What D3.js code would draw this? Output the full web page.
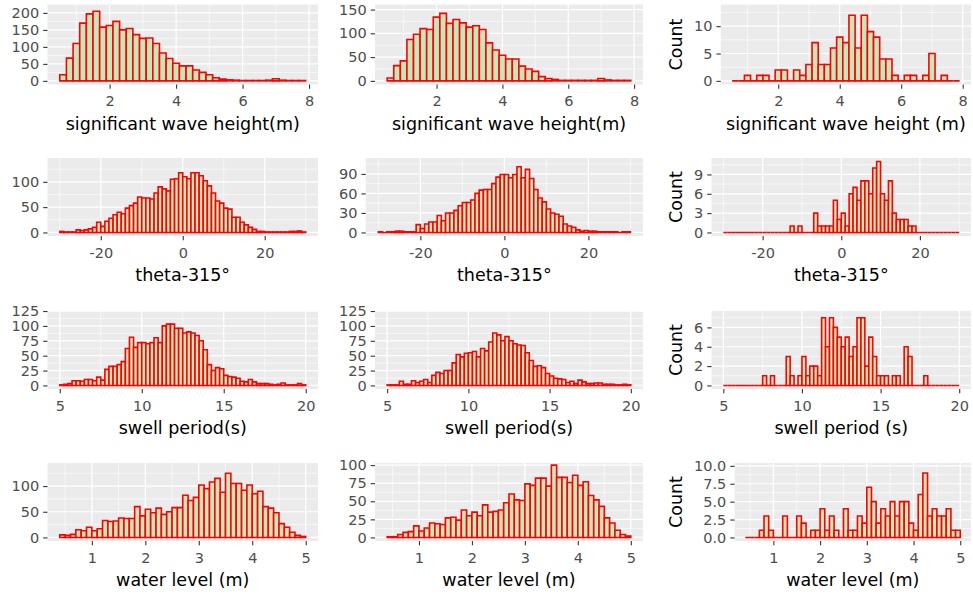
<!DOCTYPE html>
<html>
<head>
<meta charset="utf-8">
<script src="https://cdn.jsdelivr.net/npm/d3@7"></script>
<style>
  body { margin: 0; background: #fff; }
  text { font-family: "DejaVu Sans", sans-serif; }
</style>
</head>
<body>
<div id="chart"></div>
<script>
// bins: [left edge of first bin, bin width]
const waveBin = [0.5, 0.2];
const thetaBin = [-30, 1];
const swellBin = [5, 0.25];
const levelBin = [0.4, 0.1];

// counts per bin, three datasets per variable
const waveA = [18,67,110,170,197,205,158,163,175,150,154,136,125,126,110,82,66,52,44,44,32,25,18,9,5,3,2,1,1,1,1,2,6,2,1,1,1];
const waveB = [6,32,42,87,98,110,108,134,142,121,129,122,113,116,108,80,65,54,46,46,31,25,20,9,5,3,1,1,1,1,1,1,5,2,1,1,1];
const waveC = [0,0,1,0,1,1,0,2,2,0,2,1,3,7,3,3,6,8,7,12,6,12,9,8,4,4,1,0,1,1,0,1,5,0,1,0,0];

const thetaA = [2,1,1,1,5,4,5,7,10,20,12,22,28,35,40,37,48,53,58,70,68,68,66,78,90,86,82,105,106,118,
                110,106,118,118,112,102,92,78,62,58,48,46,30,30,20,15,10,6,2,2,1,1,1,1,1,1,2,2,3,1];
const thetaB = [1,0,1,1,2,2,1,1,1,12,6,13,16,16,26,18,30,30,34,41,46,46,50,60,65,66,66,75,85,89,
                89,84,89,101,84,97,83,66,53,47,36,30,28,25,13,10,8,4,2,3,2,2,1,1,1,1,1,0,1,1];
const thetaC = [0,0,0,0,0,0,0,0,0,0,0,0,0,0,0,0,0,1,0,1,0,0,0,3,1,1,1,1,5,2,
                3,1,6,7,5,8,8,6,10,11,6,5,8,3,2,2,2,1,1,0,0,0,0,0,0,0,0,0,0,0];

const swellA = [1,2,3,8,8,7,10,10,8,14,9,27,32,32,35,40,62,81,64,72,72,70,72,80,72,100,103,103,96,96,
                88,90,88,84,75,60,35,25,30,28,17,15,14,12,7,6,10,6,3,3,3,2,1,2,4,1,1,1,3,1];
const swellB = [1,1,1,7,2,2,8,5,7,10,5,17,22,20,25,25,38,52,48,54,55,57,48,62,58,73,88,85,75,82,
                75,70,68,67,55,42,32,33,30,20,16,12,11,10,5,7,3,9,6,3,3,4,4,2,2,2,1,1,2,1];
const swellC = [0,0,0,0,0,0,0,0,0,0,1,0,1,0,0,0,3,1,0,1,3,1,2,2,1,7,4,7,6,5,
                4,5,3,4,7,7,2,5,3,1,1,1,0,1,1,0,4,3,0,0,0,1,0,0,0,0,0,0,0,0];

const levelA = [5,4,6,15,13,20,13,17,33,31,32,38,37,37,60,42,55,48,57,45,50,58,58,82,72,78,102,95,108,115,
                88,125,105,105,92,102,85,90,60,57,48,27,20,10,4,2];
const levelB = [1,1,4,7,8,16,9,13,20,19,18,27,28,24,38,30,35,30,45,35,36,38,48,60,52,51,74,72,82,82,
                71,100,83,83,76,86,72,77,58,52,43,27,20,10,4,2];
const levelC = [0,0,0,1,3,1,0,0,3,0,0,3,2,0,1,1,4,1,3,1,0,4,1,1,3,2,7,5,2,4,
                3,5,3,5,5,2,1,6,9,3,4,3,3,4,1,1];

// axis ticks
const waveTicks = [2, 4, 6, 8];
const thetaTicks = [-20, 0, 20];
const swellTicks = [5, 10, 15, 20];
const levelTicks = [1, 2, 3, 4, 5];

const yTicks = [
  [0, 50, 100, 150, 200], [0, 50, 100, 150], [0, 5, 10],
  [0, 50, 100], [0, 30, 60, 90], [0, 3, 6, 9],
  [0, 25, 50, 75, 100, 125], [0, 25, 50, 75, 100, 125], [0, 2, 4, 6],
  [0, 50, 100], [0, 25, 50, 75, 100], [0, 2.5, 5, 7.5, 10]
];
// upper y limit of each panel before the 5% padding
const yMax = [214, 153, 13.3, 140, 109, 11, 119.1, 119.1, 7.33, 138, 98, 9.9];

const xTitles = [
  ["significant wave height(m)", "significant wave height(m)", "significant wave height (m)"],
  ["theta-315°", "theta-315°", "theta-315°"],
  ["swell period(s)", "swell period(s)", "swell period (s)"],
  ["water level (m)", "water level (m)", "water level (m)"]
];

const rows = [
  {bin: waveBin, counts: [waveA, waveB, waveC], ticks: waveTicks},
  {bin: thetaBin, counts: [thetaA, thetaB, thetaC], ticks: thetaTicks},
  {bin: swellBin, counts: [swellA, swellB, swellC], ticks: swellTicks},
  {bin: levelBin, counts: [levelA, levelB, levelC], ticks: levelTicks}
];

// layout
const W = 973, H = 596;
const rowTop = [4.5, 158, 311, 463];
const rowH = [80, 78, 78, 78];
const labelStart = [11.5, 339, 694];
const panelRight = [318, 643, 971];
const countX = 676;
const tickLen = 4.3;
const tickFont = 14.5, titleFont = 17.5;

const svg = d3.select("#chart").append("svg")
    .attr("width", W)
    .attr("height", H)
    .style("background", "#fff");

const measure = svg.append("text")
    .attr("font-size", tickFont)
    .attr("visibility", "hidden");
function textWidth(s) {
    measure.text(s);
    return measure.node().getComputedTextLength();
}

function minorOf(ticks, domain) {
    let step = ticks[1] - ticks[0];
    let ext = [ticks[0] - step, ...ticks, ticks[ticks.length - 1] + step];
    let out = [];
    for (let i = 0; i < ext.length - 1; i++) out.push((ext[i] + ext[i + 1]) / 2);
    return out.filter(v => v >= domain[0] && v <= domain[1]);
}

function styleAxis(sel) {
    sel.select(".domain").remove();
    sel.selectAll(".tick line").attr("stroke", "#333333").attr("stroke-width", 1.1);
    sel.selectAll(".tick text")
        .attr("fill", "#4D4D4D")
        .style("font-size", tickFont + "px")
        .style("font-family", "'DejaVu Sans', sans-serif");
}

rows.forEach((row, r) => {
    row.counts.forEach((counts, c) => {
        let i = r * 3 + c;
        let fmt = i === 11 ? (d => d.toFixed(1)) : (d => String(d));
        let labelW = d3.max(yTicks[i].map(fmt), textWidth);
        let left = labelStart[c] + labelW + 4 + tickLen;
        let right = panelRight[c];
        let top = rowTop[r], bottom = top + rowH[r];

        let bins = counts.map((n, k) => ({
            x0: row.bin[0] + k * row.bin[1],
            x1: row.bin[0] + (k + 1) * row.bin[1],
            n: n
        }));
        let lo = bins[0].x0, hi = bins[bins.length - 1].x1, pad = (hi - lo) * 0.05;

        let x = d3.scaleLinear().domain([lo - pad, hi + pad]).range([left, right]);
        let y = d3.scaleLinear().domain([-0.05 * yMax[i], 1.05 * yMax[i]]).range([bottom, top]);

        let g = svg.append("g");

        g.append("rect")
            .attr("x", left).attr("y", top)
            .attr("width", right - left).attr("height", bottom - top)
            .attr("fill", "#EBEBEB");

        // minor grid
        g.selectAll(".xminor").data(minorOf(row.ticks, x.domain())).enter()
            .append("line")
            .attr("x1", d => x(d)).attr("x2", d => x(d))
            .attr("y1", top).attr("y2", bottom)
            .attr("stroke", "#fff").attr("stroke-width", 0.6);
        g.selectAll(".yminor").data(minorOf(yTicks[i], y.domain())).enter()
            .append("line")
            .attr("x1", left).attr("x2", right)
            .attr("y1", d => y(d)).attr("y2", d => y(d))
            .attr("stroke", "#fff").attr("stroke-width", 0.6);

        // major grid
        g.selectAll(".xmajor").data(row.ticks).enter()
            .append("line")
            .attr("x1", d => x(d)).attr("x2", d => x(d))
            .attr("y1", top).attr("y2", bottom)
            .attr("stroke", "#fff").attr("stroke-width", 1.2);
        g.selectAll(".ymajor").data(yTicks[i]).enter()
            .append("line")
            .attr("x1", left).attr("x2", right)
            .attr("y1", d => y(d)).attr("y2", d => y(d))
            .attr("stroke", "#fff").attr("stroke-width", 1.2);

        // bars (paths so that empty bins still show their outline)
        g.selectAll(".bar").data(bins).enter()
            .append("path")
            .attr("class", "bar")
            .attr("d", d => `M${x(d.x0)},${y(0)}V${y(d.n)}H${x(d.x1)}V${y(0)}Z`)
            .attr("fill", "#C6E7B9")
            .attr("stroke", "#FF0000")
            .attr("stroke-width", 1.6);

        // axes
        g.append("g")
            .attr("transform", `translate(0,${bottom})`)
            .call(d3.axisBottom(x).tickValues(row.ticks).tickSize(tickLen).tickPadding(7).tickFormat(d => String(d)))
            .call(styleAxis);

        g.append("g")
            .attr("transform", `translate(${left},0)`)
            .call(d3.axisLeft(y).tickValues(yTicks[i]).tickSize(tickLen).tickPadding(4).tickFormat(fmt))
            .call(styleAxis);

        g.append("text")
            .attr("x", (left + right) / 2)
            .attr("y", bottom + 45)
            .attr("text-anchor", "middle")
            .attr("font-size", titleFont)
            .attr("fill", "#000")
            .text(xTitles[r][c]);

        if (c === 2) {
            g.append("text")
                .attr("transform", `translate(${countX},${(top + bottom) / 2}) rotate(-90)`)
                .attr("text-anchor", "middle")
                .attr("dy", "0.35em")
                .attr("font-size", titleFont)
                .attr("fill", "#000")
                .text("Count");
        }
    });
});
</script>
</body>
</html>
